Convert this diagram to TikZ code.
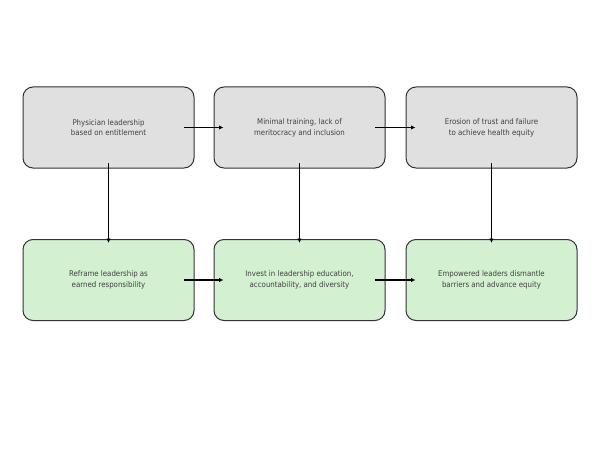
\documentclass[tikz,border=0pt]{standalone}
\usepackage{fontspec}
\setmainfont{DejaVu Sans Condensed}
\usetikzlibrary{arrows.meta}
\definecolor{boxgray}{HTML}{E0E0E0}
\definecolor{boxgreen}{HTML}{D3F0D1}
\definecolor{edgecol}{HTML}{333333}
\definecolor{txtcol}{HTML}{404040}
\begin{document}
\begin{tikzpicture}[x=1pt,y=-1pt,
  box/.style={draw=edgecol, line width=1pt, rounded corners=10pt, minimum width=171pt, minimum height=81pt, align=center, font=\fontsize{7.8}{10.8}\selectfont, text=txtcol},
  graybox/.style={box, fill=boxgray},
  greenbox/.style={box, fill=boxgreen},
  hconn/.style={-{Latex[length=4.5pt,width=4.5pt]}, line width=1.4pt, black, shorten <=-11pt, shorten >=-10pt},
  vconn/.style={-{Latex[length=4.5pt,width=4.5pt]}, line width=1.4pt, black, shorten <=-6pt, shorten >=-4pt}]
\useasboundingbox (0,0) rectangle (600,452);
\node[graybox] (a1) at (108.5,127.5) {Physician leadership\\based on entitlement};
\node[graybox] (a2) at (299.5,127.5) {Minimal training, lack of\\meritocracy and inclusion};
\node[graybox] (a3) at (491.5,127.5) {Erosion of trust and failure\\to achieve health equity};
\node[greenbox] (b1) at (108.5,280) {Reframe leadership as\\earned responsibility};
\node[greenbox] (b2) at (299.5,280) {Invest in leadership education,\\accountability, and diversity};
\node[greenbox] (b3) at (491.5,280) {Empowered leaders dismantle\\barriers and advance equity};
\draw[hconn] (a1.east) -- (a2.west);
\draw[hconn] (a2.east) -- (a3.west);
\draw[hconn] (b1.east) -- (b2.west);
\draw[hconn] (b2.east) -- (b3.west);
\draw[vconn] (a1.south) -- (b1.north);
\draw[vconn] (a2.south) -- (b2.north);
\draw[vconn] (a3.south) -- (b3.north);
\end{tikzpicture}
\end{document}
